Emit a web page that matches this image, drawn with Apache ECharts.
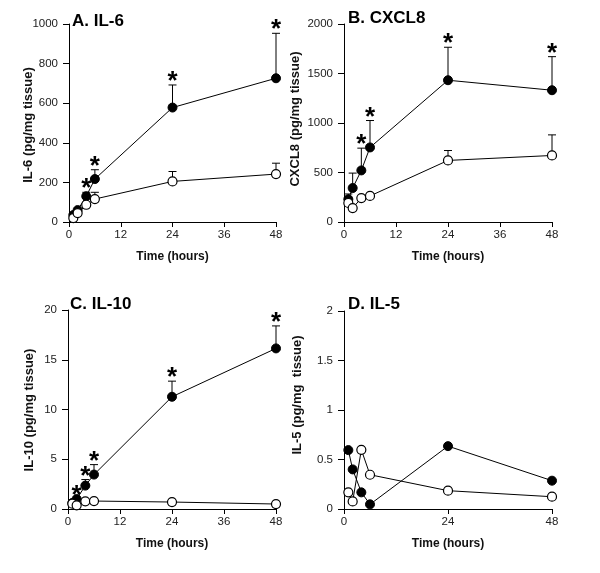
<!DOCTYPE html>
<html>
<head>
<meta charset="utf-8">
<script src="https://cdn.jsdelivr.net/npm/echarts@6/dist/echarts.min.js"></script>
<style>
html,body{margin:0;padding:0;background:#fff;}
#c{width:600px;height:573px;}
</style>
</head>
<body>
<div id="c"></div>
<script>
// ---------- data ----------
const hours = [1, 2, 4, 6, 24, 48];

const il6Stim     = [35, 60, 130, 217, 578, 726];
const il6StimErr  = [null, null, 150, 264, 692, 953];
const il6Ctrl     = [20, 45, 87, 116, 205, 242];
const il6CtrlErr  = [null, null, null, 150, 255, 297];
const il6Stars    = [4, 6, 24, 48];

const cxcl8Stim    = [230, 343, 521, 753, 1432, 1331];
const cxcl8StimErr = [283, 494, 746, 1025, 1765, 1670];
const cxcl8Ctrl    = [192, 141, 242, 263, 622, 672];
const cxcl8CtrlErr = [null, null, null, null, 722, 880];
const cxcl8Stars   = [4, 6, 24, 48];

const il10Stim    = [0.6, 1.0, 2.35, 3.46, 11.28, 16.14];
const il10StimErr = [null, null, 2.96, 4.46, 12.85, 18.4];
const il10Ctrl    = [0.54, 0.37, 0.77, 0.8, 0.7, 0.5];
const il10CtrlErr = [null, null, null, null, null, null];
const il10Stars   = [2, 4, 6, 24, 48];

const il5Stim    = [0.595, 0.40, 0.168, 0.047, 0.635, 0.286];
const il5StimErr = [null, null, null, null, null, null];
const il5Ctrl    = [0.168, 0.077, 0.598, 0.346, 0.185, 0.124];
const il5CtrlErr = [null, null, null, null, null, null];
const il5Stars   = [];

const panelTitles = ['A. IL-6', 'B. CXCL8', 'C. IL-10', 'D. IL-5'];
const yNames = ['IL-6 (pg/mg tissue)', 'CXCL8 (pg/mg tissue)', 'IL-10 (pg/mg tissue)', 'IL-5 (pg/mg  tissue)'];
const xName = 'Time (hours)';
const yMax = [1000, 2000, 20, 2];
const yStep = [200, 500, 5, 0.5];
const xStep = [12, 12, 12, 24];

// ---------- layout ----------
const FONT = '"Liberation Sans", Arial, Helvetica, sans-serif';
const grids = [
  {left: 69, top: 24, width: 207, height: 198},
  {left: 344, top: 24, width: 208, height: 198},
  {left: 68, top: 310, width: 208, height: 199},
  {left: 344, top: 311, width: 208, height: 198}
];
const titlePos = [[72, 13], [348, 10], [70, 296], [348, 296]];
const yNamePos = [[28, 125], [295, 119], [29, 410], [297, 395]];

const panels = [
  {stim: il6Stim, stimErr: il6StimErr, ctrl: il6Ctrl, ctrlErr: il6CtrlErr, stars: il6Stars},
  {stim: cxcl8Stim, stimErr: cxcl8StimErr, ctrl: cxcl8Ctrl, ctrlErr: cxcl8CtrlErr, stars: cxcl8Stars},
  {stim: il10Stim, stimErr: il10StimErr, ctrl: il10Ctrl, ctrlErr: il10CtrlErr, stars: il10Stars},
  {stim: il5Stim, stimErr: il5StimErr, ctrl: il5Ctrl, ctrlErr: il5CtrlErr, stars: il5Stars}
];

const xAxes = [], yAxes = [], series = [], titles = [], graphics = [];

function errRender(params, api) {
  const x = api.value(0), v = api.value(1), t = api.value(2);
  const p0 = api.coord([x, v]);
  const p1 = api.coord([x, t]);
  const cap = 4;
  return {
    type: 'group',
    children: [
      {type: 'line', shape: {x1: p0[0], y1: p0[1], x2: p1[0], y2: p1[1]}, style: {stroke: '#000', lineWidth: 1}},
      {type: 'line', shape: {x1: p1[0] - cap, y1: p1[1], x2: p1[0] + cap, y2: p1[1]}, style: {stroke: '#000', lineWidth: 1}}
    ]
  };
}
function starRender(params, api) {
  const x = api.value(0), v = api.value(1);
  const p = api.coord([x, v]);
  return {
    type: 'text',
    x: p[0], y: p[1] - 3,
    style: {text: '*', fontSize: 26, fontWeight: 'bold', fontFamily: FONT, fill: '#000', textAlign: 'center', textVerticalAlign: 'middle'}
  };
}
const plainNum = v => String(v);

panels.forEach((pn, i) => {
  xAxes.push({
    type: 'value', gridIndex: i, min: 0, max: 48, interval: xStep[i],
    name: xName, nameLocation: 'middle', nameGap: 29,
    nameTextStyle: {fontFamily: FONT, fontSize: 12, fontWeight: 'bold', color: '#111'},
    axisLine: {onZero: false, lineStyle: {color: '#000', width: 1}},
    axisTick: {length: 5, lineStyle: {color: '#000'}},
    axisLabel: {fontFamily: FONT, fontSize: 11.5, color: '#222', margin: 7, formatter: plainNum},
    splitLine: {show: false}
  });
  yAxes.push({
    type: 'value', gridIndex: i, min: 0, max: yMax[i], interval: yStep[i],
    axisLine: {show: true, lineStyle: {color: '#000', width: 1}},
    axisTick: {show: true, length: 6, lineStyle: {color: '#000'}},
    axisLabel: {fontFamily: FONT, fontSize: 11.5, color: '#222', margin: 11, formatter: plainNum},
    splitLine: {show: false}
  });
  const stimData = hours.map((h, k) => [h, pn.stim[k]]);
  const ctrlData = hours.map((h, k) => [h, pn.ctrl[k]]);
  const errData = [];
  hours.forEach((h, k) => {
    if (pn.stimErr[k] != null) errData.push([h, pn.stim[k], pn.stimErr[k]]);
    if (pn.ctrlErr[k] != null) errData.push([h, pn.ctrl[k], pn.ctrlErr[k]]);
  });
  const starData = pn.stars.map(h => {
    const k = hours.indexOf(h);
    const top = pn.stimErr[k] != null ? Math.max(pn.stimErr[k], pn.stim[k]) : pn.stim[k];
    return [h, top];
  });
  series.push({
    type: 'custom', xAxisIndex: i, yAxisIndex: i, renderItem: errRender, data: errData, z: 1, silent: true
  });
  series.push({
    type: 'line', xAxisIndex: i, yAxisIndex: i, data: stimData, symbol: 'circle', symbolSize: 9,
    lineStyle: {color: '#000', width: 1}, itemStyle: {color: '#000', borderColor: '#000', borderWidth: 1},
    z: 2, animation: false
  });
  series.push({
    type: 'line', xAxisIndex: i, yAxisIndex: i, data: ctrlData, symbol: 'circle', symbolSize: 9,
    showAllSymbol: true,
    lineStyle: {color: '#000', width: 1}, itemStyle: {color: '#fff', borderColor: '#000', borderWidth: 1.2},
    z: 3, animation: false
  });
  if (starData.length) {
    series.push({
      type: 'custom', xAxisIndex: i, yAxisIndex: i, renderItem: starRender, data: starData, z: 4, silent: true
    });
  }
  titles.push({
    text: panelTitles[i], left: titlePos[i][0], top: titlePos[i][1], padding: 0,
    textStyle: {fontFamily: FONT, fontSize: 17, fontWeight: 'bold', color: '#000'}
  });
  graphics.push({
    type: 'text', x: yNamePos[i][0], y: yNamePos[i][1], rotation: Math.PI / 2,
    style: {text: yNames[i], fontFamily: FONT, fontSize: 13, fontWeight: 'bold', fill: '#111',
            textAlign: 'center', textVerticalAlign: 'middle'}
  });
});

const chart = echarts.init(document.getElementById('c'), null, {renderer: 'canvas'});
chart.setOption({
  animation: false,
  backgroundColor: '#fff',
  title: titles,
  grid: grids,
  xAxis: xAxes,
  yAxis: yAxes,
  series: series,
  graphic: graphics
});
</script>
</body>
</html>
